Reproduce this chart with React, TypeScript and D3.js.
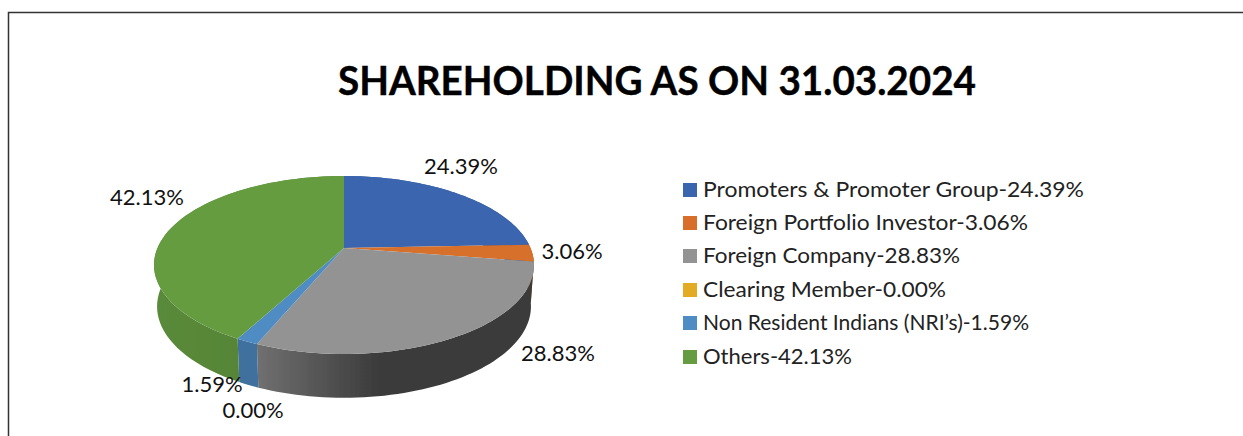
import React from "react";
import * as d3 from "d3";

const W = 1243, H = 436;
const categories = ["Promoters & Promoter Group", "Foreign Portfolio Investor", "Foreign Company", "Clearing Member", "Non Resident Indians (NRI’s)", "Others"];
const values = [24.39, 3.06, 28.83, 0.0, 1.59, 42.13];
const colors = ["#3a65ae", "#d76f2a", "#939393", "#e3ab24", "#4f8cc4", "#659c41"];
const wallLeft = ["#2e5290", "#b05a20", "#707070", "#b88a1c", "#3f709e", "#5a8a3a"];
const wallRight = ["#2e5290", "#b05a20", "#3a3a3a", "#b88a1c", "#3f709e", "#527f33"];
const labelPos: [number, number][] = [[461, 174], [572, 259], [558, 361], [253, 418], [212, 392], [147, 205]];
const legendY = [190, 223, 256, 290, 323, 357];
const legendWidth = [381, 325, 257, 243, 326, 149];

// perspective projection of the unit disc
const k = 0.191;
const proj = (cx: number, cy: number, A: number, B: number) => (t: number): [number, number] => {
  const X = Math.sin(t), Y = -Math.cos(t), w = 1 - k * Y;
  return [cx + (A * X) / w, cy + (B * Y) / w];
};
const top = proj(344, 248, 186.5, 85.75);
const bot = proj(344, 289, 183.5, 88);

const pie = d3.pie<number>().sort(null).value((d) => d);
const arcs = pie(values);
const line = d3.line();
const arcPts = (f: (t: number) => [number, number], a: number, b: number) =>
  d3.range(0, 61).map((i) => f(a + ((b - a) * i) / 60));

export default function App() {
  const xRange = (a: { startAngle: number; endAngle: number }) => {
    const xs = arcPts(top, a.startAngle, a.endAngle).map((p) => p[0]);
    return d3.extent(xs) as [number, number];
  };
  return (
    <svg width={W} height={H} style={{ position: "absolute", left: 0, top: 0, background: "#fff" }}>
      <defs>
        <filter id="soft" x="-5%" y="-5%" width="110%" height="110%"><feGaussianBlur stdDeviation="0.6" /></filter>
        {arcs.map((a, i) => {
          const [x0, x1] = xRange(a);
          return (
            <linearGradient key={i} id={`w${i}`} gradientUnits="userSpaceOnUse" x1={x0} x2={x1} y1={0} y2={0}>
              <stop offset="0" stopColor={wallLeft[i]} />
              <stop offset={i === 2 ? "0.45" : "1"} stopColor={wallRight[i]} />
            </linearGradient>
          );
        })}
      </defs>
      <path d={`M8.5,${H}V12.5H${W}`} fill="none" stroke="#333" strokeWidth={1.5} />
      <text x={657} y={95} textAnchor="middle" fontFamily="Lato" fontWeight={700} fontSize={40} textLength={638} lengthAdjust="spacingAndGlyphs" stroke="#000" strokeWidth={0.4} fill="#000">SHAREHOLDING AS ON 31.03.2024</text>
      <g filter="url(#soft)">
        {arcs.map((a, i) => (
          <path key={i} d={line([...arcPts(top, a.startAngle, a.endAngle), ...arcPts(bot, a.startAngle, a.endAngle).reverse()])! + "Z"} fill={`url(#w${i})`} />
        ))}
        {arcs.map((a, i) => (
          <path key={i} d={line([[344, 248], ...arcPts(top, a.startAngle, a.endAngle)])! + "Z"} fill={colors[i]} />
        ))}
      </g>
      {arcs.map((a, i) => (
        <text key={i} x={labelPos[i][0]} y={labelPos[i][1]} textAnchor="middle" fontFamily="Lato" fontSize={22} fill="#111">{values[i].toFixed(2)}%</text>
      ))}
      {categories.map((c, i) => (
        <g key={i}>
          <rect x={683} y={legendY[i] - 7} width={14} height={14} fill={colors[i]} />
          <text x={703} y={legendY[i] + 7} fontFamily="Lato" fontSize={21} textLength={legendWidth[i]} lengthAdjust="spacingAndGlyphs" fill="#222">{`${c}-${values[i].toFixed(2)}%`}</text>
        </g>
      ))}
    </svg>
  );
}
